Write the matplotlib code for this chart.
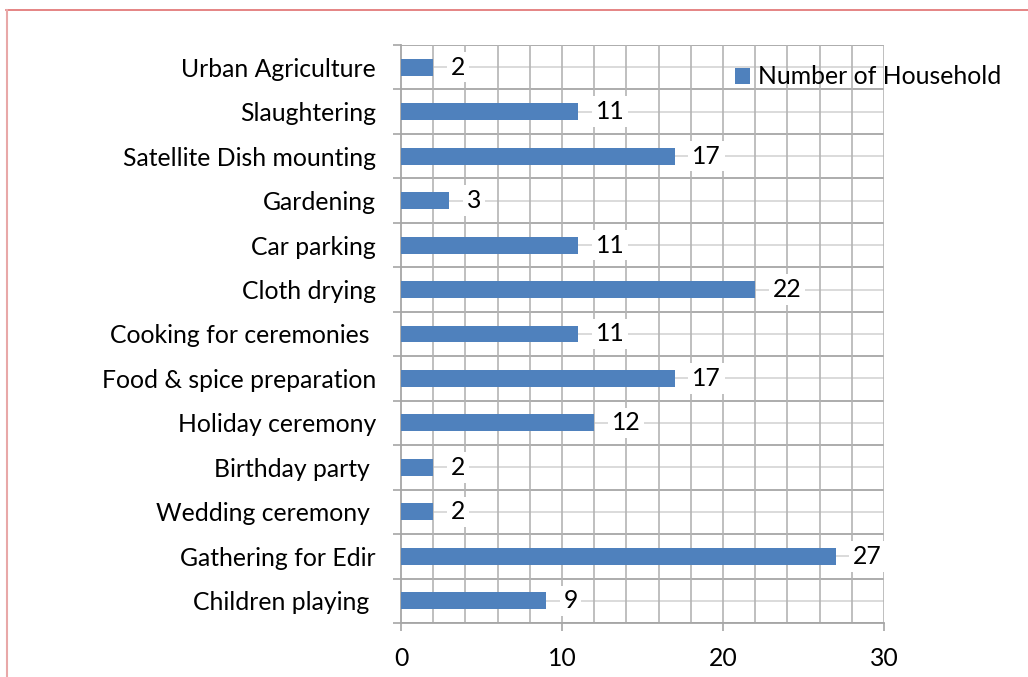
import matplotlib
matplotlib.use("Agg")
import matplotlib.pyplot as plt
from matplotlib.lines import Line2D
from matplotlib.patches import Patch

# Uses of the shared open space, listed bottom-to-top
activities = [
    "Children playing ",
    "Gathering for Edir",
    "Wedding ceremony ",
    "Birthday party ",
    "Holiday ceremony",
    "Food & spice preparation",
    "Cooking for ceremonies ",
    "Cloth drying",
    "Car parking",
    "Gardening",
    "Satellite Dish mounting",
    "Slaughtering",
    "Urban Agriculture",
]
households = [9, 27, 2, 2, 12, 17, 11, 22, 11, 3, 17, 11, 2]

bar_color = "#4F81BD"
font = "Lato"
fs = 17.8

plt.rcParams["font.family"] = [font, "DejaVu Sans"]

fig = plt.figure(figsize=(10.28, 6.77), dpi=100)
ax = fig.add_axes([401 / 1028, 1 - 623 / 677, 483 / 1028, 578 / 677])

ypos = list(range(len(activities)))
ax.barh(ypos, households, height=0.38, color=bar_color, zorder=3)

ax.set_xlim(0, 30)
ax.set_ylim(-0.5, len(activities) - 0.5)

# grid: light lines through bar centres, darker ones between categories
for y in ypos:
    ax.axhline(y, color="#D4D4D4", lw=1.2, zorder=1)
for y in range(len(activities) + 1):
    ax.axhline(y - 0.5, color="#A6A6A6", lw=1.3, zorder=1)
for x in range(2, 31, 2):
    ax.axvline(x, color="#B4B4B4", lw=1.2, zorder=1)

ax.set_xticks([0, 10, 20, 30])
ax.set_yticks([y - 0.5 for y in range(len(activities) + 1)])
ax.set_yticklabels([])
ax.set_yticks(ypos, minor=True)
ax.set_yticklabels(activities, minor=True)
ax.tick_params(axis="y", which="minor", length=0, pad=18, labelsize=fs)
ax.tick_params(axis="y", which="major", length=6, width=1.2, color="#A6A6A6", direction="out")
ax.tick_params(axis="x", length=6, width=1.2, color="#A6A6A6", pad=11, labelsize=fs)

for side in ["top", "right"]:
    ax.spines[side].set_visible(False)
ax.spines["left"].set_color("#A6A6A6")
ax.spines["left"].set_linewidth(1.3)
ax.spines["bottom"].set_color("#A6A6A6")
ax.spines["bottom"].set_linewidth(1.3)

# value labels next to each bar
for y, v in zip(ypos, households):
    ax.annotate(str(v), (v, y), xytext=(12.5, 0), textcoords="offset points",
                ha="left", va="center", fontsize=fs, zorder=4,
                bbox=dict(boxstyle="square,pad=0.15", fc="white", ec="none"))

handle = Patch(facecolor=bar_color, edgecolor="none")
fig.legend([handle], ["Number of Household"], loc="center left",
           bbox_to_anchor=(713 / 1028, 1 - 77 / 677), frameon=False,
           fontsize=fs, handlelength=0.6, handleheight=0.6, handletextpad=0.3)

# thin border around the chart area
fig.add_artist(Line2D([6 / 1028, 1], [1 - 10 / 677] * 2, color="#E07070", lw=1.2))
fig.add_artist(Line2D([6.5 / 1028] * 2, [0, 1 - 10 / 677], color="#E8A8A8", lw=1.5))

fig.savefig("out.png", dpi=100)
